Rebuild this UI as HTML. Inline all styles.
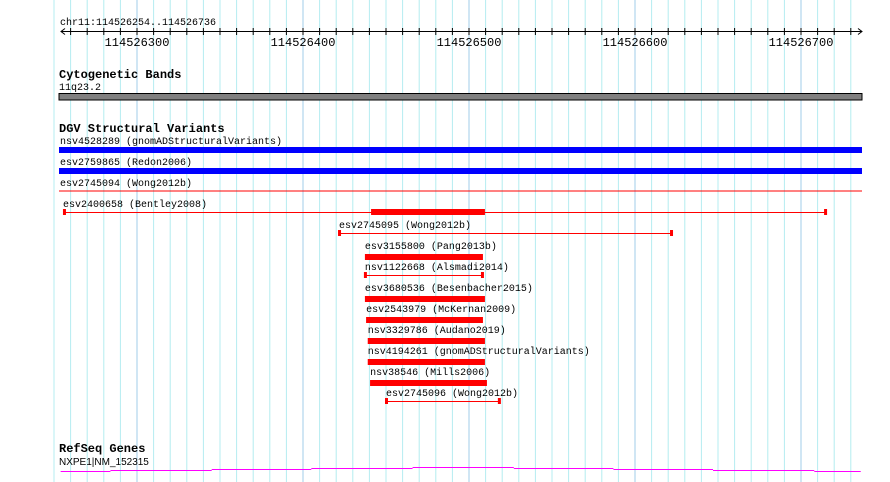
<!DOCTYPE html>
<html><head><meta charset="utf-8"><style>
html,body{margin:0;padding:0;background:#fff;}
svg{display:block;}
text{font-family:"Liberation Mono","DejaVu Sans Mono",monospace;font-size:10px;fill:#000;}
.b{font-weight:bold;font-size:12px;}
.t{font-size:12px;}
</style></head><body>
<svg id="c" width="890" height="482" xmlns="http://www.w3.org/2000/svg"></svg>
<script>
const viewStart = 254, viewEnd = 736, base = 114526000;
const tickLabels = [300, 400, 500, 600, 700];
const featNames = ["esv2400658 (Bentley2008)","esv2745095 (Wong2012b)","esv3155800 (Pang2013b)","nsv1122668 (Alsmadi2014)","esv3680536 (Besenbacher2015)","esv2543979 (McKernan2009)","nsv3329786 (Audano2019)","nsv4194261 (gnomADStructuralVariants)","nsv38546 (Mills2006)","esv2745096 (Wong2012b)"];
const featStarts = [256, 421.7, 437.3, 437.3, 437.3, 438, 439, 439, 440.4, 450];
const featEnds = [714.5, 621.7, 508.4, 507.8, 509.6, 508.4, 509.6, 509.6, 510.8, 518];
const featThick = [true, false, true, false, true, true, true, true, true, false];
const thickStart = 441, thickEnd = 509.6;
const geneSegStarts = [254, 284, 345, 405, 466, 527, 587, 647, 708];
const geneLevels = [0, 1, 2, 3, 4, 3, 2, 1, 0];

const svg = document.getElementById('c');
const NS = 'http://www.w3.org/2000/svg';
const px = 1.66;
function x(bp){ return 137 + (bp - 300) * px; }
function mk(tag, attrs, parent){ const e = document.createElementNS(NS, tag); for (const k in attrs) e.setAttribute(k, attrs[k]); (parent||svg).appendChild(e); return e; }
function txt(s, X, Y, cls, name){ const t = mk('text', {x:X, y:Y}); if (cls) t.setAttribute('class', cls); t.textContent = s;
  
  
  return t; }

for (let bp = 250; bp <= 730; bp += 10) {
  const l = mk('line', {x1:x(bp), x2:x(bp), y1:0, y2:482, stroke: bp % 100 === 0 ? '#a0cce8' : '#b4ecf0', 'stroke-width':1});
  
  
}
txt('chr11:114526254..114526736', 60, 25, null, 'region-label');
const axis = mk('line', {x1:61, x2:862, y1:31.5, y2:31.5, stroke:'#000'});


mk('path', {d:'M65 28.5 L61 31.5 L65 34.5 M858 28.5 L862 31.5 L858 34.5', stroke:'#000', fill:'none'});
for (let bp = 260; bp <= 730; bp += 10) {
  const t = mk('line', {x1:x(bp), x2:x(bp), y1:28, y2:35, stroke:'#000'});
  
  
}
tickLabels.forEach(v => { const t = txt(String(base + v), x(v), 46, 't', 'tick-label'); t.setAttribute('text-anchor', 'middle'); });

txt('Cytogenetic Bands', 59, 78, 'b', 'cytoband-track-title');
txt('11q23.2', 59, 90, null, 'cytoband-label');
const cb = mk('rect', {x:59, y:93.5, width:803, height:6.5, fill:'#808080', stroke:'#000', 'stroke-width':1});



txt('DGV Structural Variants', 59, 132, 'b', 'dgv-track-title');
txt('nsv4528289 (gnomADStructuralVariants)', 60, 144, null, 'variant-label');
let r = mk('rect', {x:59, y:147, width:803, height:6, fill:'#0000ff'});
 
txt('esv2759865 (Redon2006)', 60, 165, null, 'variant-label');
r = mk('rect', {x:59, y:168, width:803, height:6, fill:'#0000ff'});
 
txt('esv2745094 (Wong2012b)', 60, 186, null, 'variant-label');
r = mk('rect', {x:59, y:190.5, width:803, height:1, fill:'#ff0000'});
 

featNames.forEach((n, i) => {
  const y0 = 207 + i * 21;
  const x1 = x(featStarts[i]), x2 = x(featEnds[i]);
  txt(n, i === 0 ? 63 : x1, y0, null, 'variant-label');
  const g = mk('g', {});
  
  
  if (featThick[i] && i > 0) {
    mk('rect', {x:x1, y:y0 + 5, width:x2 - x1, height:6, fill:'#ff0000'}, g);
  } else {
    mk('rect', {x:x1, y:y0 + 5, width:x2 - x1, height:1, fill:'#ff0000'}, g);
    mk('rect', {x:x1 - 1, y:y0 + 2, width:3, height:6, fill:'#ff0000'}, g);
    mk('rect', {x:x2 - 1, y:y0 + 2, width:3, height:6, fill:'#ff0000'}, g);
    if (featThick[i]) mk('rect', {x:x(thickStart), y:y0 + 2, width:x(thickEnd) - x(thickStart), height:6, fill:'#ff0000'}, g);
  }
});

txt('RefSeq Genes', 59, 452, 'b', 'refseq-track-title');
const gl = txt('NXPE1|NM_152315', 59, 465, null, 'gene-label');
gl.setAttribute('style', 'font-family:"Liberation Sans",sans-serif;font-size:10px;');
geneSegStarts.forEach((s, i) => {
  const e = i + 1 < geneSegStarts.length ? geneSegStarts[i + 1] : viewEnd;
  const l = mk('line', {x1:x(s), x2:x(e), y1:471.5 - geneLevels[i], y2:471.5 - geneLevels[i], stroke:'#ff00ff', 'stroke-width':1});
  
  
});
</script>
</body></html>
